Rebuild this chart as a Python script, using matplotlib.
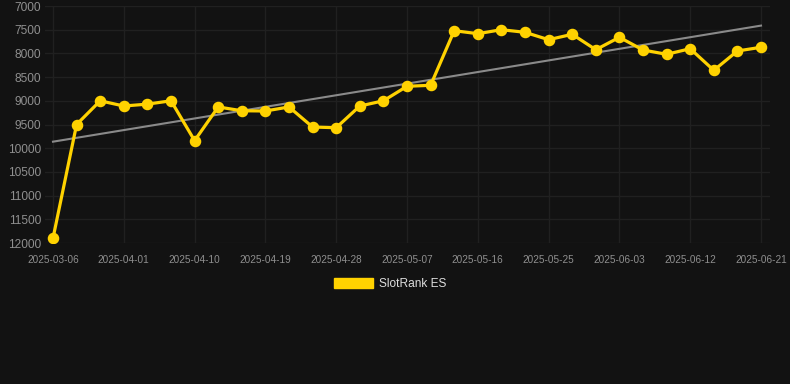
import numpy as np
import matplotlib
matplotlib.use("Agg")
import matplotlib.pyplot as plt
from matplotlib.patches import Patch
import pandas as pd

plt.rcParams['font.family'] = ['Liberation Sans', 'DejaVu Sans']

# categories (one point per entry, only every third label is shown)
dates = ["2025-03-06", "2025-03-26", "2025-03-29"] + \
    [d.strftime("%Y-%m-%d") for d in pd.date_range("2025-04-01", "2025-06-21", freq="3D")]

rank = [11900, 9500, 9000, 9110, 9070, 9000, 9840, 9130, 9210, 9215,
        9130, 9553, 9568, 9110, 9000, 8694, 8673, 7521, 7584, 7500,
        7555, 7711, 7597, 7922, 7660, 7928, 8019, 7901, 8357, 7949,
        7871]

series_name = "SlotRank ES"
y_ticks = [7000, 7500, 8000, 8500, 9000, 9500, 10000, 10500, 11000, 11500, 12000]

bg = "#121212"
yellow = "#FFD200"

fig = plt.figure(figsize=(7.9, 3.84), dpi=100, facecolor=bg)
ax = fig.add_axes([45 / 790, 1 - 243 / 384, 725 / 790, 237 / 384])
ax.set_facecolor(bg)

x = np.arange(len(rank))
# linear trend over the points
k, b = np.polyfit(x, rank, 1)
ax.plot(x, k * x + b, color="#8a8a8a", lw=1.5, zorder=2)

ax.plot(x, rank, color=yellow, lw=2.3, marker="o", ms=7.3, zorder=3)

ax.set_xlim(-8 / 23.6, len(rank) - 1 + 9 / 23.6)
ax.set_ylim(12000, 7000)
ax.set_yticks(y_ticks)
ax.set_xticks(x[::3])
ax.set_xticklabels(dates[::3])

ax.tick_params(axis="y", colors="#8f8f8f", labelsize=8.6, length=0, pad=3)
ax.tick_params(axis="x", colors="#8f8f8f", labelsize=7.2, length=0, pad=8.5)
ax.grid(True, color="#202020", lw=1)
for s in ax.spines.values():
    s.set_visible(False)

fig.legend(handles=[Patch(facecolor=yellow, edgecolor=yellow, label=series_name)],
           loc="center", bbox_to_anchor=(390 / 790, 1 - 284 / 384),
           frameon=False, handlelength=3.3, handleheight=0.9,
           handletextpad=0.5, labelcolor="#dddddd", fontsize=8.6)

fig.savefig("out.png", dpi=100, facecolor=bg)
